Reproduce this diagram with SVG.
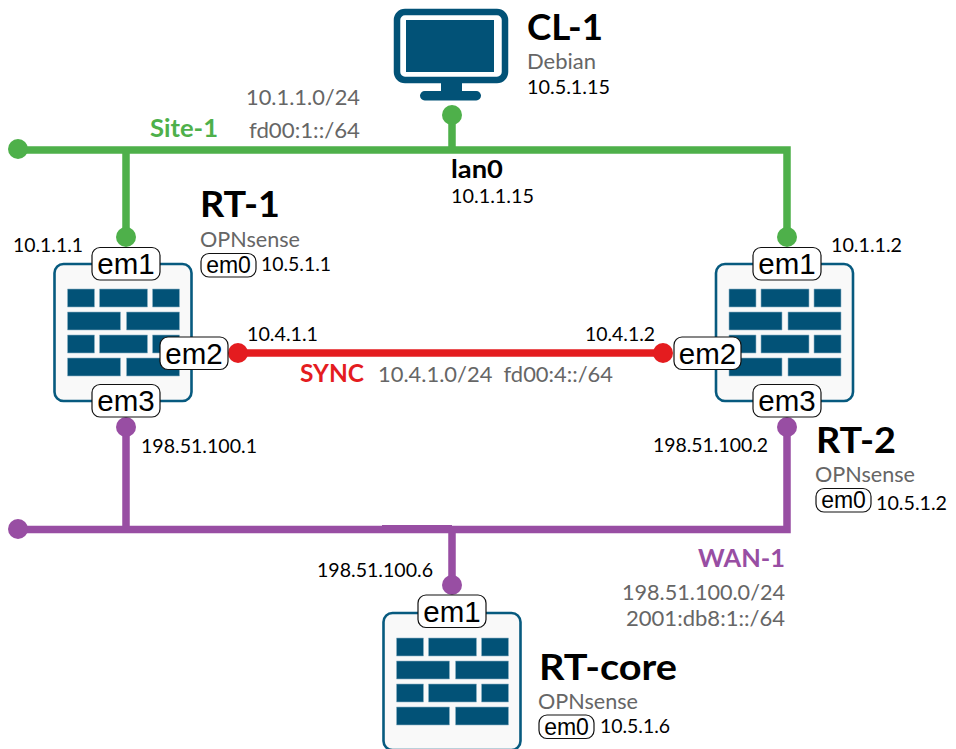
<svg xmlns="http://www.w3.org/2000/svg" width="956" height="749" viewBox="0 0 956 749">
<style>
text{font-family:"Lato","Carlito","Open Sans",sans-serif;fill:#000}
.title{font-size:37px;font-weight:700}
.ip{font-size:18.500px}
.os{font-size:21px;fill:#666}
.net{font-size:21px;fill:#666}
.bold{font-size:24px;font-weight:700}
.pt{font-family:"Liberation Sans",Arial,sans-serif;font-size:29.500px;text-anchor:middle}
.pt0{font-family:"Liberation Sans",Arial,sans-serif;font-size:23px;text-anchor:middle}
.plabel{fill:#fff;stroke:#111;stroke-width:1.2}
.brick{fill:#025277;stroke:#8fb3c6;stroke-width:.6}
.box{fill:#f9f9f9;stroke:#075a7f;stroke-width:2.6}
.ln{fill:none;stroke-width:7.500}
.g{stroke:#4eb04a}.gf{fill:#4eb04a}
.r{stroke:#e41c1f}.rf{fill:#e41c1f}
.p{stroke:#984ea3}.pf{fill:#984ea3}
</style>
<defs>
<g id="fw">
<rect class="box" x="0" y="0" width="137" height="137" rx="9"/>
<path class="brick" d="M13 25h27v18h-27zM45 25h48v18h-48zM98 25h27v18h-27zM13 48h53v18h-53zM72 48h53v18h-53zM13 71h27v18h-27zM45 71h48v18h-48zM98 71h27v18h-27zM13 94h53v18h-53zM72 94h53v18h-53z"/>
</g>
</defs>
<g id="connectors">
<path class="ln g" d="M18 150H787V237M126 150V237M452 115V150"/>
<path class="ln r" d="M238 353H663"/>
<path class="ln p" d="M18 529.500H787V427M126 427V529M452 529V585"/>
<rect class="pf" x="382" y="525" width="70" height="4"/>
<circle class="gf" cx="18" cy="149" r="10"/>
<circle class="pf" cx="18" cy="529" r="10"/>
</g>
<g id="CL-1">
<rect x="397" y="12" width="108" height="68" rx="8" fill="#fff" stroke="#025277" stroke-width="6.500"/>
<rect x="406" y="20" width="88" height="52" fill="#025277"/>
<path fill="#025277" d="M441 83h21v8h-21z"/>
<rect x="420" y="91" width="61" height="9.500" rx="4.700" fill="#025277"/>
<circle class="gf" cx="452" cy="115" r="10"/>
<text class="title" x="527" y="40" textLength="76" lengthAdjust="spacingAndGlyphs">CL-1</text>
<text class="os" x="527" y="69" textLength="69" lengthAdjust="spacingAndGlyphs">Debian</text>
<text class="ip" x="527" y="94" textLength="83" lengthAdjust="spacingAndGlyphs">10.5.1.15</text>
<text class="bold" x="451" y="178" textLength="52" lengthAdjust="spacingAndGlyphs">lan0</text>
<text class="ip" x="451" y="203" textLength="83" lengthAdjust="spacingAndGlyphs">10.1.1.15</text>
</g>
<g id="Site-1">
<text class="bold" x="150" y="137" textLength="68" lengthAdjust="spacingAndGlyphs" style="fill:#4eb04a">Site-1</text>
<text class="net" x="246" y="105" textLength="114" lengthAdjust="spacingAndGlyphs">10.1.1.0/24</text>
<text class="net" x="249" y="138" textLength="111" lengthAdjust="spacingAndGlyphs">fd00:1::/64</text>
</g>
<g id="RT-1">
<use href="#fw" x="54.500" y="264"/>
<circle class="gf" cx="126" cy="237" r="10"/>
<circle class="rf" cx="238" cy="353" r="10"/>
<circle class="pf" cx="126" cy="427" r="10"/>
<rect class="plabel" x="92" y="247.500" width="68" height="32.500" rx="8"/><text class="pt" x="126" y="274">em1</text>
<rect class="plabel" x="160" y="337" width="68" height="32.500" rx="8"/><text class="pt" x="194" y="363.500">em2</text>
<rect class="plabel" x="92" y="384.500" width="68" height="32.500" rx="8"/><text class="pt" x="126" y="411">em3</text>
<text class="title" x="200" y="217" textLength="80" lengthAdjust="spacingAndGlyphs">RT-1</text>
<text class="os" x="200" y="247" textLength="100" lengthAdjust="spacingAndGlyphs">OPNsense</text>
<rect class="plabel" x="201" y="253.500" width="55" height="23.500" rx="8"/><text class="pt0" x="228.500" y="273">em0</text>
<text class="ip" x="261" y="271" textLength="70" lengthAdjust="spacingAndGlyphs">10.5.1.1</text>
<text class="ip" x="13" y="252" textLength="70" lengthAdjust="spacingAndGlyphs">10.1.1.1</text>
<text class="ip" x="247" y="341" textLength="71" lengthAdjust="spacingAndGlyphs">10.4.1.1</text>
<text class="ip" x="141" y="453" textLength="116" lengthAdjust="spacingAndGlyphs">198.51.100.1</text>
</g>
<g id="SYNC">
<text class="bold" x="300" y="382" textLength="64" lengthAdjust="spacingAndGlyphs" style="fill:#e41c1f">SYNC</text>
<text class="net" x="378" y="382" textLength="235" lengthAdjust="spacingAndGlyphs" xml:space="preserve">10.4.1.0/24  fd00:4::/64</text>
</g>
<g id="RT-2">
<use href="#fw" x="716" y="264"/>
<circle class="gf" cx="787" cy="237" r="10"/>
<circle class="rf" cx="663" cy="353" r="10"/>
<circle class="pf" cx="787" cy="427" r="10"/>
<rect class="plabel" x="753" y="247.500" width="68" height="32.500" rx="8"/><text class="pt" x="787" y="274">em1</text>
<rect class="plabel" x="674" y="337" width="67" height="32.500" rx="8"/><text class="pt" x="707.500" y="363.500">em2</text>
<rect class="plabel" x="753" y="384.500" width="68" height="32.500" rx="8"/><text class="pt" x="787" y="411">em3</text>
<text class="title" x="816" y="453" textLength="80" lengthAdjust="spacingAndGlyphs">RT-2</text>
<text class="os" x="815" y="482" textLength="100" lengthAdjust="spacingAndGlyphs">OPNsense</text>
<rect class="plabel" x="816" y="488.500" width="55" height="23.500" rx="8"/><text class="pt0" x="843.500" y="508">em0</text>
<text class="ip" x="876" y="510" textLength="71" lengthAdjust="spacingAndGlyphs">10.5.1.2</text>
<text class="ip" x="831" y="252" textLength="71" lengthAdjust="spacingAndGlyphs">10.1.1.2</text>
<text class="ip" x="585" y="341" textLength="70" lengthAdjust="spacingAndGlyphs">10.4.1.2</text>
<text class="ip" x="653" y="452" textLength="115" lengthAdjust="spacingAndGlyphs">198.51.100.2</text>
</g>
<g id="WAN-1">
<text class="bold" x="698" y="567" textLength="87" lengthAdjust="spacingAndGlyphs" style="fill:#984ea3">WAN-1</text>
<text class="net" x="622" y="600" textLength="163" lengthAdjust="spacingAndGlyphs">198.51.100.0/24</text>
<text class="net" x="626" y="626" textLength="159" lengthAdjust="spacingAndGlyphs">2001:db8:1::/64</text>
</g>
<g id="RT-core">
<use href="#fw" x="383.500" y="613"/>
<circle class="pf" cx="452" cy="585" r="10"/>
<rect class="plabel" x="418" y="595" width="68" height="32.500" rx="8"/><text class="pt" x="452" y="621.500">em1</text>
<text class="title" x="539" y="680" textLength="138" lengthAdjust="spacingAndGlyphs">RT-core</text>
<text class="os" x="538" y="709" textLength="100" lengthAdjust="spacingAndGlyphs">OPNsense</text>
<rect class="plabel" x="539" y="715" width="55" height="23.500" rx="8"/><text class="pt0" x="566.500" y="734.500">em0</text>
<text class="ip" x="600" y="733" textLength="70" lengthAdjust="spacingAndGlyphs">10.5.1.6</text>
<text class="ip" x="317" y="577" textLength="116" lengthAdjust="spacingAndGlyphs">198.51.100.6</text>
</g>
</svg>
